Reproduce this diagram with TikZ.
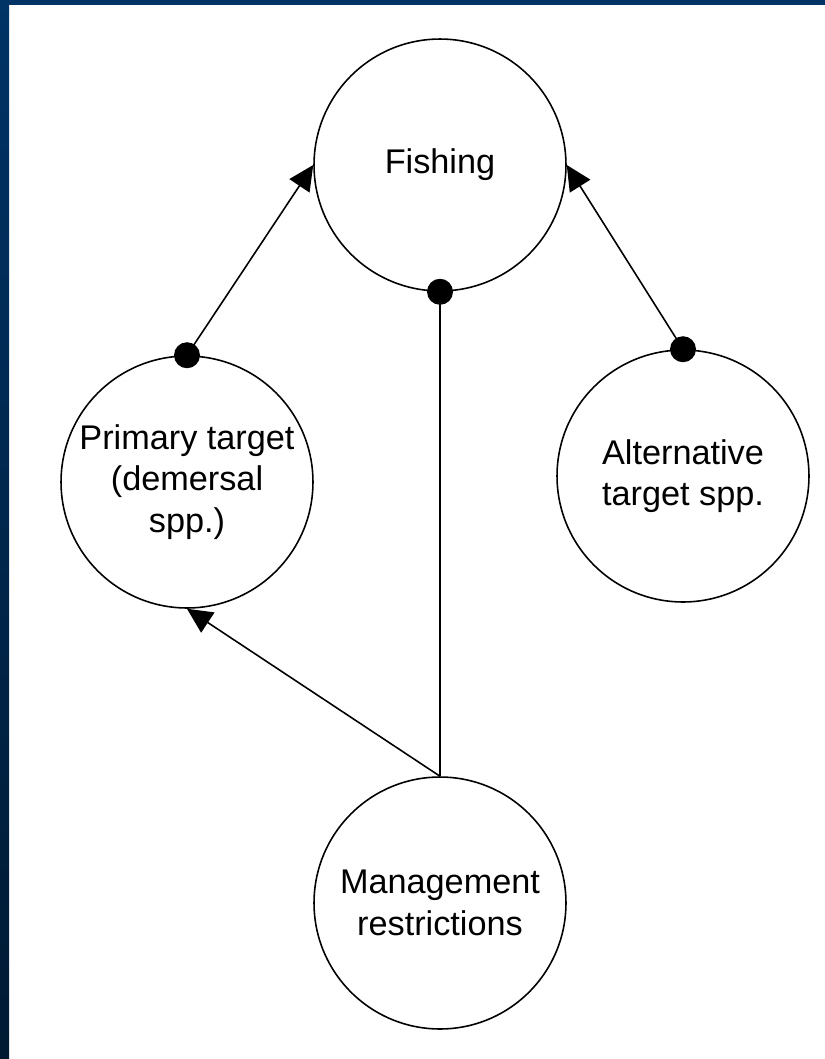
\documentclass[tikz,border=0pt]{standalone}
\usepackage{fontspec}
\setmainfont{Liberation Sans}
\usetikzlibrary{arrows.meta}
\definecolor{navy}{RGB}{0,51,102}
\definecolor{darknavy}{RGB}{0,26,51}

\begin{document}
\begin{tikzpicture}[x=0.02cm, y=-0.02cm,
    bubble/.style={draw, circle, line width=0.9pt, minimum size=5.04cm, inner sep=0pt,
        align=center, font=\fontsize{19.5}{23.5}\selectfont},
    knob/.style={circle, fill, inner sep=0pt, minimum size=0.52cm},
    link/.style={line width=0.9pt},
    head/.style={-{Triangle[length=0.5cm, width=0.48cm]}}]

    % 1. Hatter es keret
    \useasboundingbox (0,0) rectangle (825,1059);
    \fill[white] (0,0) rectangle (825,1059);
    \shade[top color=navy, bottom color=darknavy] (0,0) rectangle (9,1059);
    \fill[navy] (0,0) rectangle (825,5);

    % 2. Korok
    \node[bubble] (fishing) at (440,165) {Fishing};
    \node[bubble] (primary) at (187,482) {Primary target\\(demersal\\spp.)};
    \node[bubble] (alternative) at (683,476) {Alternative\\target spp.};
    \node[bubble] (management) at (440,903) {Management\\restrictions};

    % 3. Pottyok
    \node[knob] (k-primary) at (primary.north) {};
    \node[knob] (k-fishing) at (fishing.south) {};
    \node[knob] (k-alternative) at (alternative.north) {};

    % 4. Nyilak
    \draw[link, head] (k-primary.center) -- (fishing.west);
    \draw[link, head] (k-alternative.center) -- (fishing.east);
    \draw[link] (k-fishing.center) -- (management.north);
    \draw[link, head] (management.north) -- (primary.south);
\end{tikzpicture}
\end{document}
